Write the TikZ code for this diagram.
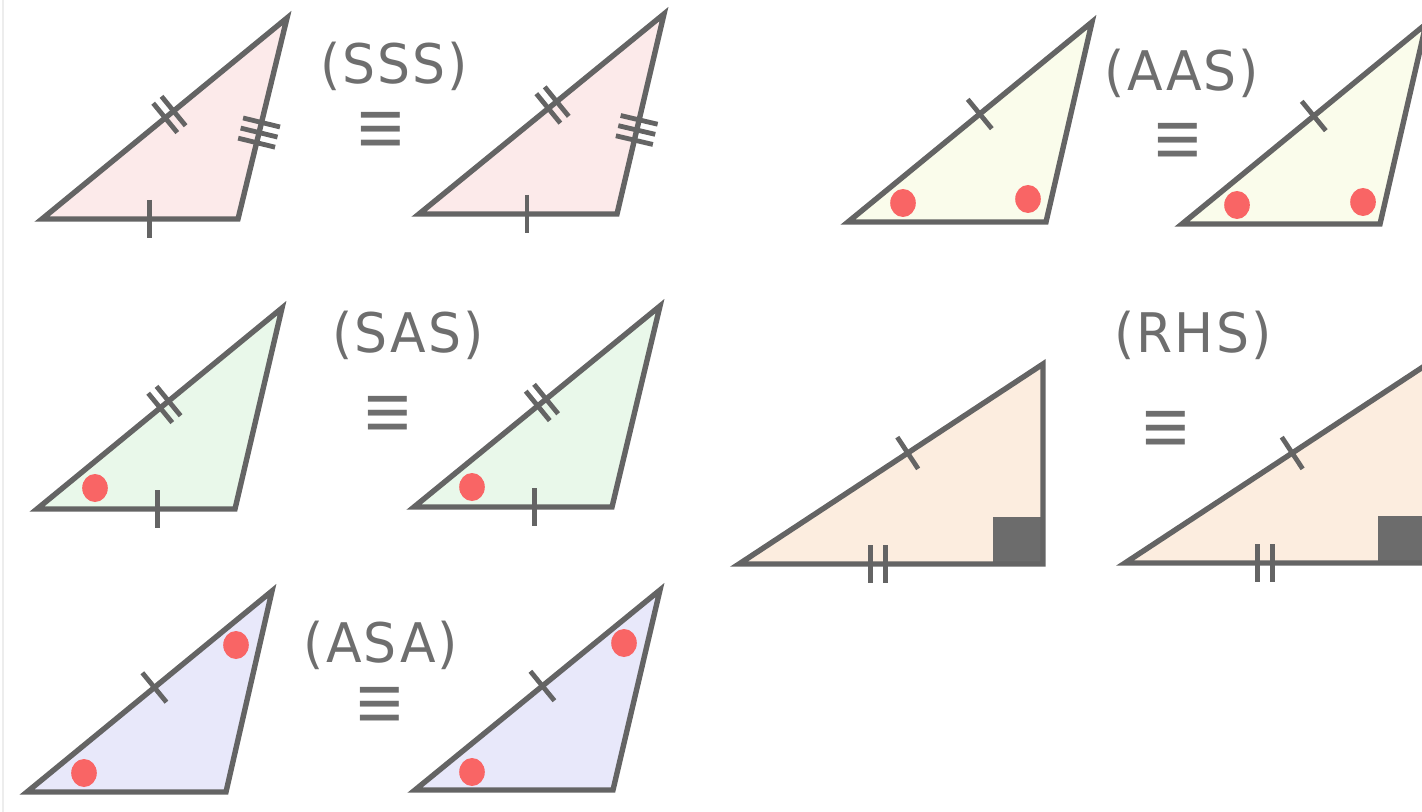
\documentclass[tikz,border=0pt]{standalone}
\usepackage{fontspec}
\setmainfont{DejaVu Sans}
\newfontfamily\lblfont[LetterSpace=4]{DejaVu Sans}
\newfontfamily\eqfont{Liberation Sans}
\usetikzlibrary{calc}
\definecolor{edgegray}{HTML}{646464}
\definecolor{txtgray}{HTML}{6E6E6E}
\definecolor{dotred}{HTML}{F96565}
\definecolor{fpink}{HTML}{FCEAEA}
\definecolor{fgreen}{HTML}{E9F8EA}
\definecolor{fblue}{HTML}{E8E8FA}
\definecolor{fyellow}{HTML}{FAFCEB}
\definecolor{fpeach}{HTML}{FCEDDF}
\newcommand\tkmark[4]{%
  \coordinate (tkm) at ($(#1)!#3!(#2)$);
  \coordinate (tkn) at ($(tkm)!#4!(#2)$);
  \draw[tk] ($(tkn)!9.5pt!90:(#2)$) -- ($(tkn)!9.5pt!-90:(#2)$);}
\begin{document}
\begin{tikzpicture}[x=0.5pt,y=-0.5pt,
  tri/.style={draw=edgegray,line width=2.7pt},
  tk/.style={draw=edgegray,line width=2.4pt},
  dot/.style={fill=dotred,draw=none},
  lbl/.style={text=txtgray,font=\lblfont\fontsize{26}{30}\selectfont,inner sep=0pt,yscale=1.05},
  eqv/.style={text=txtgray,font=\eqfont\fontsize{40}{44}\selectfont,inner sep=0pt}]
\useasboundingbox (0,0) rectangle (1422,812);
\clip (0,0) rectangle (1422,812);
\draw[black!7,line width=0.75pt] (3,0) -- (3,812);

% ---------- SSS ----------
\coordinate (s1a) at (42,219); \coordinate (s1b) at (238,219); \coordinate (s1c) at (287,18);
\coordinate (s2a) at (419,214); \coordinate (s2b) at (617,214); \coordinate (s2c) at (664,14);
\filldraw[tri,fill=fpink] (s1a) -- (s1b) -- (s1c) -- cycle;
\filldraw[tri,fill=fpink] (s2a) -- (s2b) -- (s2c) -- cycle;
\tkmark{s1a}{s1b}{0.55}{0pt}
\tkmark{s1a}{s1c}{0.52}{-2.7pt}\tkmark{s1a}{s1c}{0.52}{2.7pt}
\tkmark{s1b}{s1c}{0.43}{-5.2pt}\tkmark{s1b}{s1c}{0.43}{0pt}\tkmark{s1b}{s1c}{0.43}{5.2pt}
\tkmark{s2a}{s2b}{0.545}{0pt}
\tkmark{s2a}{s2c}{0.545}{-2.7pt}\tkmark{s2a}{s2c}{0.545}{2.7pt}
\tkmark{s2b}{s2c}{0.42}{-5.2pt}\tkmark{s2b}{s2c}{0.42}{0pt}\tkmark{s2b}{s2c}{0.42}{5.2pt}
\node[lbl] (lsss) at (394,66) {(SSS)};
\node[eqv] (esss) at (381,134) {≡};

% ---------- SAS ----------
\coordinate (g1a) at (37,509); \coordinate (g1b) at (235,509); \coordinate (g1c) at (282,308);
\coordinate (g2a) at (414,507); \coordinate (g2b) at (612,507); \coordinate (g2c) at (660,306);
\filldraw[tri,fill=fgreen] (g1a) -- (g1b) -- (g1c) -- cycle;
\filldraw[tri,fill=fgreen] (g2a) -- (g2b) -- (g2c) -- cycle;
\fill[dot] ($(g1a)+(58,-21)$) ellipse [x radius=6.4pt,y radius=7pt];
\fill[dot] ($(g2a)+(58,-20)$) ellipse [x radius=6.4pt,y radius=7pt];
\tkmark{g1a}{g1b}{0.61}{0pt}
\tkmark{g1a}{g1c}{0.52}{-2.7pt}\tkmark{g1a}{g1c}{0.52}{2.7pt}
\tkmark{g2a}{g2b}{0.61}{0pt}
\tkmark{g2a}{g2c}{0.52}{-2.7pt}\tkmark{g2a}{g2c}{0.52}{2.7pt}
\node[lbl] (lsas) at (408,335) {(SAS)};
\node[eqv] (esas) at (388,418) {≡};

% ---------- ASA ----------
\coordinate (b1a) at (27,792); \coordinate (b1b) at (226,792); \coordinate (b1c) at (272,591);
\coordinate (b2a) at (415,790); \coordinate (b2b) at (613,790); \coordinate (b2c) at (660,590);
\filldraw[tri,fill=fblue] (b1a) -- (b1b) -- (b1c) -- cycle;
\filldraw[tri,fill=fblue] (b2a) -- (b2b) -- (b2c) -- cycle;
\fill[dot] ($(b1a)+(57,-19)$) ellipse [x radius=6.4pt,y radius=7pt];
\fill[dot] ($(b1c)+(-36,54)$) ellipse [x radius=6.4pt,y radius=7pt];
\fill[dot] ($(b2a)+(57,-18)$) ellipse [x radius=6.4pt,y radius=7pt];
\fill[dot] ($(b2c)+(-36,53)$) ellipse [x radius=6.4pt,y radius=7pt];
\tkmark{b1a}{b1c}{0.52}{0pt}
\tkmark{b2a}{b2c}{0.52}{0pt}
\node[lbl] (lasa) at (381,645) {(ASA)};
\node[eqv] (easa) at (380,709) {≡};

% ---------- AAS ----------
\coordinate (y1a) at (848,222); \coordinate (y1b) at (1046,222); \coordinate (y1c) at (1092,22);
\coordinate (y2a) at (1182,224); \coordinate (y2b) at (1380,224); \coordinate (y2c) at (1426,24);
\filldraw[tri,fill=fyellow] (y1a) -- (y1b) -- (y1c) -- cycle;
\filldraw[tri,fill=fyellow] (y2a) -- (y2b) -- (y2c) -- cycle;
\fill[dot] ($(y1a)+(55,-19)$) ellipse [x radius=6.4pt,y radius=7pt];
\fill[dot] ($(y1b)+(-18,-23)$) ellipse [x radius=6.4pt,y radius=7pt];
\fill[dot] ($(y2a)+(55,-19)$) ellipse [x radius=6.4pt,y radius=7pt];
\fill[dot] ($(y2b)+(-17,-22)$) ellipse [x radius=6.4pt,y radius=7pt];
\tkmark{y1a}{y1c}{0.54}{0pt}
\tkmark{y2a}{y2c}{0.54}{0pt}
\node[lbl] (laas) at (1182,73) {(AAS)};
\node[eqv] (eaas) at (1178,145) {≡};

% ---------- RHS ----------
\coordinate (r1a) at (739,564); \coordinate (r1b) at (1043,564); \coordinate (r1c) at (1043,364);
\coordinate (r2a) at (1125,563); \coordinate (r2b) at (1429,563); \coordinate (r2c) at (1429,363);
\fill[fpeach] (r1a) -- (r1b) -- (r1c) -- cycle;
\fill[fpeach] (r2a) -- (r2b) -- (r2c) -- cycle;
\fill[edgegray!95] (993,517) rectangle (r1b);
\fill[edgegray!95] (1378,516) rectangle (r2b);
\draw[tri] (r1a) -- (r1b) -- (r1c) -- cycle;
\draw[tri] (r2a) -- (r2b) -- (r2c) -- cycle;
\tkmark{r1a}{r1c}{0.555}{0pt}
\tkmark{r1a}{r1b}{0.457}{-3.7pt}\tkmark{r1a}{r1b}{0.457}{3.7pt}
\tkmark{r2a}{r2c}{0.55}{0pt}
\tkmark{r2a}{r2b}{0.46}{-3.7pt}\tkmark{r2a}{r2b}{0.46}{3.7pt}
\node[lbl] (lrhs) at (1193,335) {(RHS)};
\node[eqv] (erhs) at (1166,433) {≡};
\end{tikzpicture}
\end{document}
